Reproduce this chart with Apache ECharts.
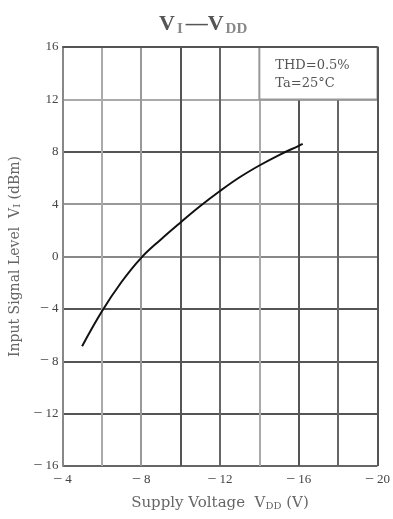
<!DOCTYPE html>
<html>
<head>
<meta charset="utf-8">
<script src="https://cdn.jsdelivr.net/npm/echarts@6/dist/echarts.min.js"></script>
<style>
  html, body { margin: 0; padding: 0; background: #fff; }
  #chart { width: 393px; height: 519px; }
</style>
</head>
<body>
<div id="chart"></div>
<script>
// Supply voltage V_DD (V) and the input signal level V_I (dBm) at THD = 0.5 %
const supplyVoltage = [-5, -6, -7, -8, -9, -10, -11, -12, -13, -14, -15, -16, -16.2];
const inputLevel    = [-6.85, -4.2, -1.95, -0.1, 1.3, 2.6, 3.85, 5.0, 6.05, 6.95, 7.75, 8.45, 8.6];

// Labelled ticks (voltage grid lines every 2 V, level grid lines every 4 dB)
const xTickLabels = [-4, -8, -12, -16, -20];
const yTickLabels = [-16, -12, -8, -4, 0, 4, 8, 12, 16];

// Test conditions shown in the corner box
const conditionLines = ['THD=0.5%', 'Ta=25°C'];

const serif = '"Liberation Serif", "DejaVu Serif", serif';
const wideSerif = '"DejaVu Serif", "Liberation Serif", serif';

// Long datasheet-style minus sign in front of negative tick values
const signed = v => (v < 0 ? '{m|\u2212}' + Math.abs(v) : String(v));
const tickRich = { m: { fontFamily: serif, fontSize: 16, color: '#555', padding: [0, 3, 0, 0] } };

const chart = echarts.init(document.getElementById('chart'), null, { renderer: 'canvas' });

chart.setOption({
  backgroundColor: '#ffffff',
  animation: false,
  title: {
    text: '{v|V}{s|I}{v|\u2014V}{d|DD}',
    left: 154,
    top: 7,
    textStyle: {
      rich: {
        v: { fontFamily: serif, fontSize: 22, color: '#555' },
        s: { fontFamily: serif, fontSize: 15, color: '#888', verticalAlign: 'bottom', padding: [10, 3, 0, 2] },
        d: { fontFamily: serif, fontSize: 15, color: '#888', verticalAlign: 'bottom', padding: [10, 0, 0, 2] }
      }
    }
  },
  grid: { left: 62, top: 47, right: 13, bottom: 53 },
  xAxis: {
    type: 'value',
    min: -20,
    max: -4,
    interval: 2,
    inverse: true,
    name: 'Supply Voltage  V{s|DD} (V)',
    nameLocation: 'middle',
    nameGap: 30,
    nameTextStyle: {
      fontFamily: wideSerif, fontSize: 15, color: '#666',
      rich: { s: { fontFamily: wideSerif, fontSize: 10, color: '#666', padding: [5, 0, 0, 0] } }
    },
    axisLine: { show: false },
    axisTick: { show: false },
    axisLabel: {
      fontFamily: serif, fontSize: 13, color: '#444', margin: 6,
      rich: tickRich,
      formatter: v => (xTickLabels.includes(v) ? signed(v) : '')
    },
    splitLine: {
      show: true,
      lineStyle: {
        width: 2,
        color: ['#555', '#666', '#555', '#aaa', '#666', '#555', '#999', '#aaa', '#888']
      }
    }
  },
  yAxis: {
    type: 'value',
    min: -16,
    max: 16,
    interval: 4,
    name: 'Input Signal Level  V{s|I} (dBm)',
    nameLocation: 'middle',
    nameGap: 31,
    nameRotate: 90,
    nameTextStyle: {
      fontFamily: wideSerif, fontSize: 14, color: '#666',
      rich: { s: { fontFamily: wideSerif, fontSize: 10, color: '#666', padding: [5, 0, 0, 0] } }
    },
    axisLine: { show: false },
    axisTick: { show: false },
    axisLabel: {
      fontFamily: serif, fontSize: 13, color: '#444', margin: 4,
      rich: tickRich,
      formatter: v => (yTickLabels.includes(v) ? signed(v) : '')
    },
    splitLine: {
      show: true,
      lineStyle: {
        width: 2,
        color: ['#666', '#555', '#555', '#555', '#888', '#999', '#555', '#aaa', '#555']
      }
    }
  },
  series: [
    {
      type: 'line',
      data: supplyVoltage.map((v, i) => [v, inputLevel[i]]),
      smooth: 0.4,
      showSymbol: false,
      lineStyle: { color: '#111', width: 2 },
      z: 5,
      markArea: {
        silent: true,
        itemStyle: { color: '#fff', borderColor: '#999', borderWidth: 2 },
        label: {
          show: true,
          position: 'insideTopLeft',
          padding: [6, 0, 0, 12],
          fontFamily: wideSerif,
          fontSize: 13,
          lineHeight: 18,
          color: '#555',
          formatter: conditionLines.join('\n')
        },
        data: [[{ xAxis: -14, yAxis: 16 }, { xAxis: -20, yAxis: 12 }]]
      }
    },
    {
      // Dark frame edges drawn over the condition box
      type: 'line',
      data: [],
      z: 8,
      silent: true,
      markLine: {
        silent: true,
        symbol: 'none',
        label: { show: false },
        lineStyle: { color: '#555', width: 2, type: 'solid' },
        data: [{ yAxis: 16 }, { xAxis: -20 }]
      }
    }
  ]
});
</script>
</body>
</html>
